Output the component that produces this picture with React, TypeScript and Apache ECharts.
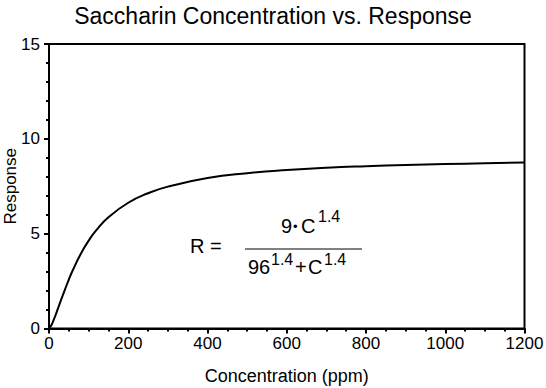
import React, { useEffect, useRef } from "react";
import * as echarts from "echarts";

const concentration = [0, 5, 10, 15, 20, 30, 40, 50, 60, 80, 100, 120, 150, 200, 250, 300, 400, 500, 600, 700, 800, 900, 1000, 1100, 1200];
const response = [0, 0.14, 0.36, 0.62, 0.9, 1.48, 2.04, 2.58, 3.07, 3.93, 4.63, 5.2, 5.86, 6.63, 7.13, 7.48, 7.93, 8.19, 8.36, 8.48, 8.56, 8.62, 8.67, 8.71, 8.75];
const xTicks = { min: 0, max: 1200, interval: 200 };
const yTicks = { min: 0, max: 15, interval: 5 };

const FONT = "'Liberation Sans', Arial, Helvetica, sans-serif";

export default function App() {
  const ref = useRef<HTMLDivElement>(null);
  useEffect(() => {
    document.body.style.margin = "0";
    if (!ref.current) return;
    const chart = echarts.init(ref.current, undefined, { renderer: "svg" });
    const points = concentration.map((c, i) => [c, response[i]]);
    const txt = (x: number, y: number, text: string, size: number, align = "left") => ({
      type: "text",
      x,
      y,
      style: { text, fontSize: size, fontFamily: FONT, fill: "#000", align, verticalAlign: "middle" },
    });
    chart.setOption({
      animation: false,
      backgroundColor: "#fff",
      title: {
        text: "Saccharin Concentration vs. Response",
        left: "center",
        top: -1,
        textStyle: { fontFamily: FONT, fontSize: 23, fontWeight: "normal", color: "#000" },
      },
      grid: {
        left: 49,
        right: 21.5,
        top: 44,
        bottom: 59.5,
        containLabel: false,
        outerBoundsMode: "none",
        show: true,
        borderColor: "#000",
        borderWidth: 2,
      },
      xAxis: {
        type: "value",
        ...xTicks,
        name: "Concentration (ppm)",
        nameLocation: "middle",
        nameGap: 38,
        nameMoveOverlap: false,
        nameTextStyle: { fontFamily: FONT, fontSize: 18, color: "#000" },
        axisLine: { show: true, lineStyle: { color: "#000", width: 2 } },
        axisTick: { show: true, length: 5, lineStyle: { color: "#000", width: 2 } },
        minorTick: { show: true, splitNumber: 4, length: 3, lineStyle: { color: "#000", width: 2 } },
        axisLabel: { fontFamily: FONT, fontSize: 17, color: "#000", margin: 6, formatter: (v: number) => String(v) },
        splitLine: { show: false },
      },
      yAxis: {
        type: "value",
        ...yTicks,
        name: "Response",
        nameLocation: "middle",
        nameGap: 30,
        nameMoveOverlap: false,
        nameTextStyle: { fontFamily: FONT, fontSize: 17, color: "#000" },
        axisLine: { show: true, lineStyle: { color: "#000", width: 2 } },
        axisTick: { show: true, length: 5, lineStyle: { color: "#000", width: 2 } },
        minorTick: { show: true, splitNumber: 5, length: 3, lineStyle: { color: "#000", width: 2 } },
        axisLabel: { fontFamily: FONT, fontSize: 17, color: "#000", margin: 9, formatter: (v: number) => String(v) },
        splitLine: { show: false },
      },
      series: [
        {
          type: "line",
          data: points,
          smooth: true,
          showSymbol: false,
          lineStyle: { color: "#000", width: 2 },
        },
      ],
      graphic: [
        txt(190, 246, "R =", 20),
        { type: "line", shape: { x1: 245, y1: 249, x2: 362, y2: 249 }, style: { stroke: "#000", lineWidth: 1 } },
        txt(281, 226, "9", 20),
        txt(293, 226, "•", 13),
        txt(301, 226, "C", 20),
        txt(318, 216, "1.4", 16),
        txt(248, 267, "96", 20),
        txt(271, 259, "1.4", 16),
        txt(295, 267, "+", 20),
        txt(308, 267, "C", 20),
        txt(324, 259, "1.4", 16),
      ],
    });
    return () => chart.dispose();
  }, []);
  return <div ref={ref} style={{ width: 546, height: 388 }} />;
}
